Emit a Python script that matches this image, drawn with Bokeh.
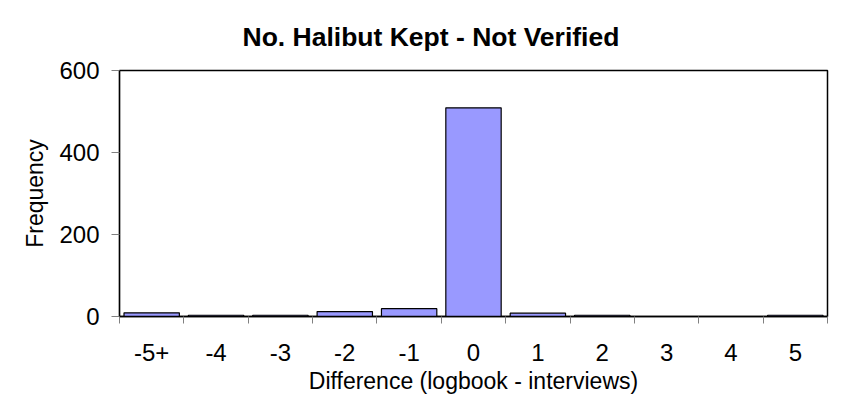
from bokeh.plotting import figure
from bokeh.models import Range1d, FixedTicker, ColumnDataSource, Title
from bokeh.embed import file_html
from bokeh.resources import INLINE

categories = ["-5+", "-4", "-3", "-2", "-1", "0", "1", "2", "3", "4", "5"]
frequency = [9, 3, 3, 12, 19, 509, 8, 3, 0, 0, 3]
y_ticks = [0, 200, 400, 600]

FONT = "Liberation Sans"

x_pos = [i + 0.5 for i in range(len(categories))]
src = ColumnDataSource(dict(x=x_pos, top=frequency, cat=categories))

p = figure(width=829, height=400, output_backend="svg", toolbar_location=None,
           x_range=Range1d(0, len(categories)), y_range=Range1d(0, 600),
           min_border_left=119, min_border_right=2, min_border_top=70, min_border_bottom=84,
           background_fill_color="white", border_fill_color="white")

p.title = None
t = Title(text="No. Halibut Kept - Not Verified", align="left", offset=123,
          text_font=FONT, text_font_size="26.5px", text_font_style="bold",
          text_color="black", standoff=37)
p.add_layout(t, "above")

p.vbar(x="x", top="top", width=0.86, bottom=0, source=src,
       fill_color="#9999FF", line_color="black", line_width=1.2)

p.grid.visible = False
p.outline_line_color = "black"
p.outline_line_width = 1.5

# x axis: labels at category centres, ticks at category boundaries
p.xaxis.ticker = FixedTicker(ticks=x_pos, minor_ticks=list(range(len(categories) + 1)))
p.xaxis.major_label_overrides = {x: c for x, c in zip(x_pos, categories)}
p.xaxis.major_tick_line_color = None
p.xaxis.major_tick_out = 7
p.xaxis.major_tick_in = 0
p.xaxis.minor_tick_out = 7
p.xaxis.minor_tick_in = 0
p.xaxis.minor_tick_line_color = "#808080"
p.xaxis.axis_line_color = "black"
p.xaxis.axis_line_width = 1.5
p.xaxis.major_label_text_font = FONT
p.xaxis.major_label_text_font_size = "24px"
p.xaxis.major_label_text_color = "black"
p.xaxis.major_label_standoff = 20
p.xaxis.axis_label = "Difference (logbook - interviews)"
p.xaxis.axis_label_text_font = FONT
p.xaxis.axis_label_text_font_size = "23px"
p.xaxis.axis_label_text_font_style = "normal"
p.xaxis.axis_label_text_color = "black"
p.xaxis.axis_label_standoff = 4

p.yaxis.ticker = FixedTicker(ticks=y_ticks)
p.yaxis.minor_tick_line_color = None
p.yaxis.major_tick_out = 8
p.yaxis.major_tick_in = 0
p.yaxis.major_tick_line_color = "#808080"
p.yaxis.axis_line_color = "black"
p.yaxis.axis_line_width = 1.2
p.yaxis.major_label_text_font = FONT
p.yaxis.major_label_text_font_size = "24px"
p.yaxis.major_label_text_color = "black"
p.yaxis.major_label_standoff = 12
p.yaxis.axis_label = "Frequency"
p.yaxis.axis_label_text_font = FONT
p.yaxis.axis_label_text_font_size = "23px"
p.yaxis.axis_label_text_font_style = "normal"
p.yaxis.axis_label_text_color = "black"
p.yaxis.axis_label_standoff = 8

open("out.html", "w").write(file_html(p, INLINE))
